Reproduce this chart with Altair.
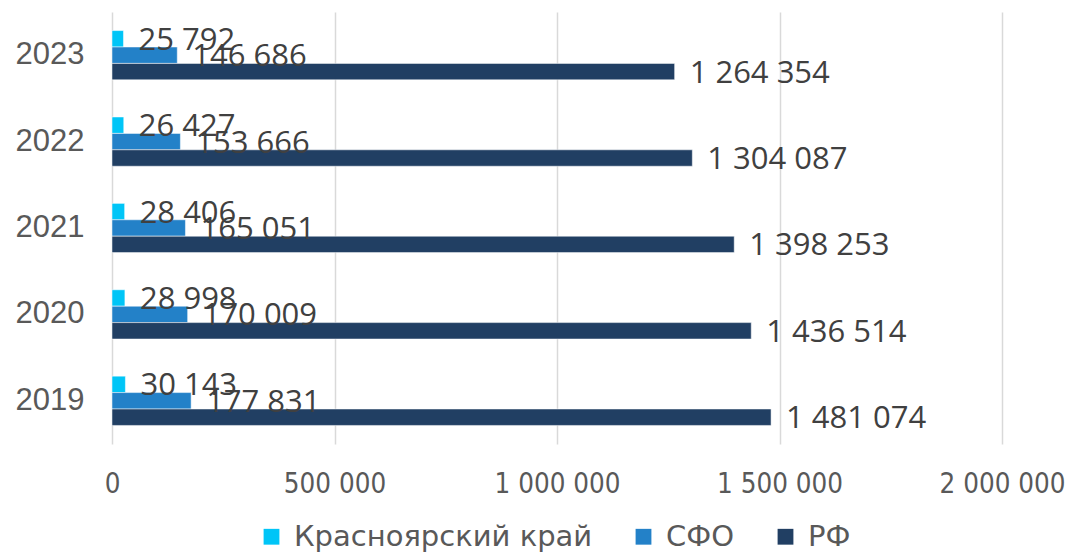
import altair as alt
import pandas as pd

years = ["2019", "2020", "2021", "2022", "2023"]
series = ["Красноярский край", "СФО", "РФ"]
kray = [30143, 28998, 28406, 26427, 25792]
sfo = [177831, 170009, 165051, 153666, 146686]
rf = [1481074, 1436514, 1398253, 1304087, 1264354]
colors = ["#00C5F7", "#2381C8", "#213F63"]

rows = []
for name, vals in zip(series, [kray, sfo, rf]):
    for y, v in zip(years, vals):
        s = f"{v:,}".replace(",", " ")
        rows.append({"year": y, "series": name, "value": v, "label": s})
df = pd.DataFrame(rows)

ysort = list(reversed(years))

base = alt.Chart(df).encode(
    y=alt.Y("year:N", sort=ysort, title=None,
            scale=alt.Scale(paddingInner=0.43, paddingOuter=0.215),
            axis=alt.Axis(labelFont="Liberation Sans", labelFontSize=31, labelColor="#595959",
                          labelPadding=28, ticks=False, domain=False)),
    yOffset=alt.YOffset("series:N", sort=series, scale=alt.Scale(paddingInner=0, paddingOuter=0)),
)

bars = base.mark_bar(stroke="white", strokeWidth=0.5).encode(
    x=alt.X("value:Q", title=None,
            scale=alt.Scale(domain=[0, 2000000], nice=False),
            axis=alt.Axis(values=[0, 500000, 1000000, 1500000, 2000000],
                          labelExpr="replace(replace(format(datum.value, ','), ',', ' '), ',', ' ')",
                          labelFont="Liberation Sans Narrow, DejaVu Sans Condensed", labelFontSize=27.5,
                          labelColor="#595959", labelPadding=26, ticks=False, domain=False,
                          grid=True, gridColor="#D9D9D9", gridWidth=1.5, labelFlush=False)),
    color=alt.Color("series:N", sort=series,
                    scale=alt.Scale(domain=series, range=colors),
                    legend=alt.Legend(title=None, orient="none", direction="horizontal",
                                      legendX=145, legendY=510, labelLimit=0,
                                      symbolType="square", symbolSize=250, symbolStrokeWidth=0,
                                      labelFont="DejaVu Sans", labelFontSize=29, labelColor="#595959",
                                      columnPadding=36, labelOffset=8)),
)

text = base.mark_text(align="left", baseline="middle", dx=15, dy=2,
                      font="Open Sans", fontSize=31, color="#404040").encode(
    x="value:Q",
    text="label:N",
)

chart = (bars + text).properties(
    width=890, height=432,
    autosize=alt.AutoSizeParams(type="none"),
    padding={"left": 104, "top": 4, "right": 64, "bottom": 111},
).configure_view(stroke=None)

chart.save("out.html", embed_options={"renderer": "svg", "actions": False})
